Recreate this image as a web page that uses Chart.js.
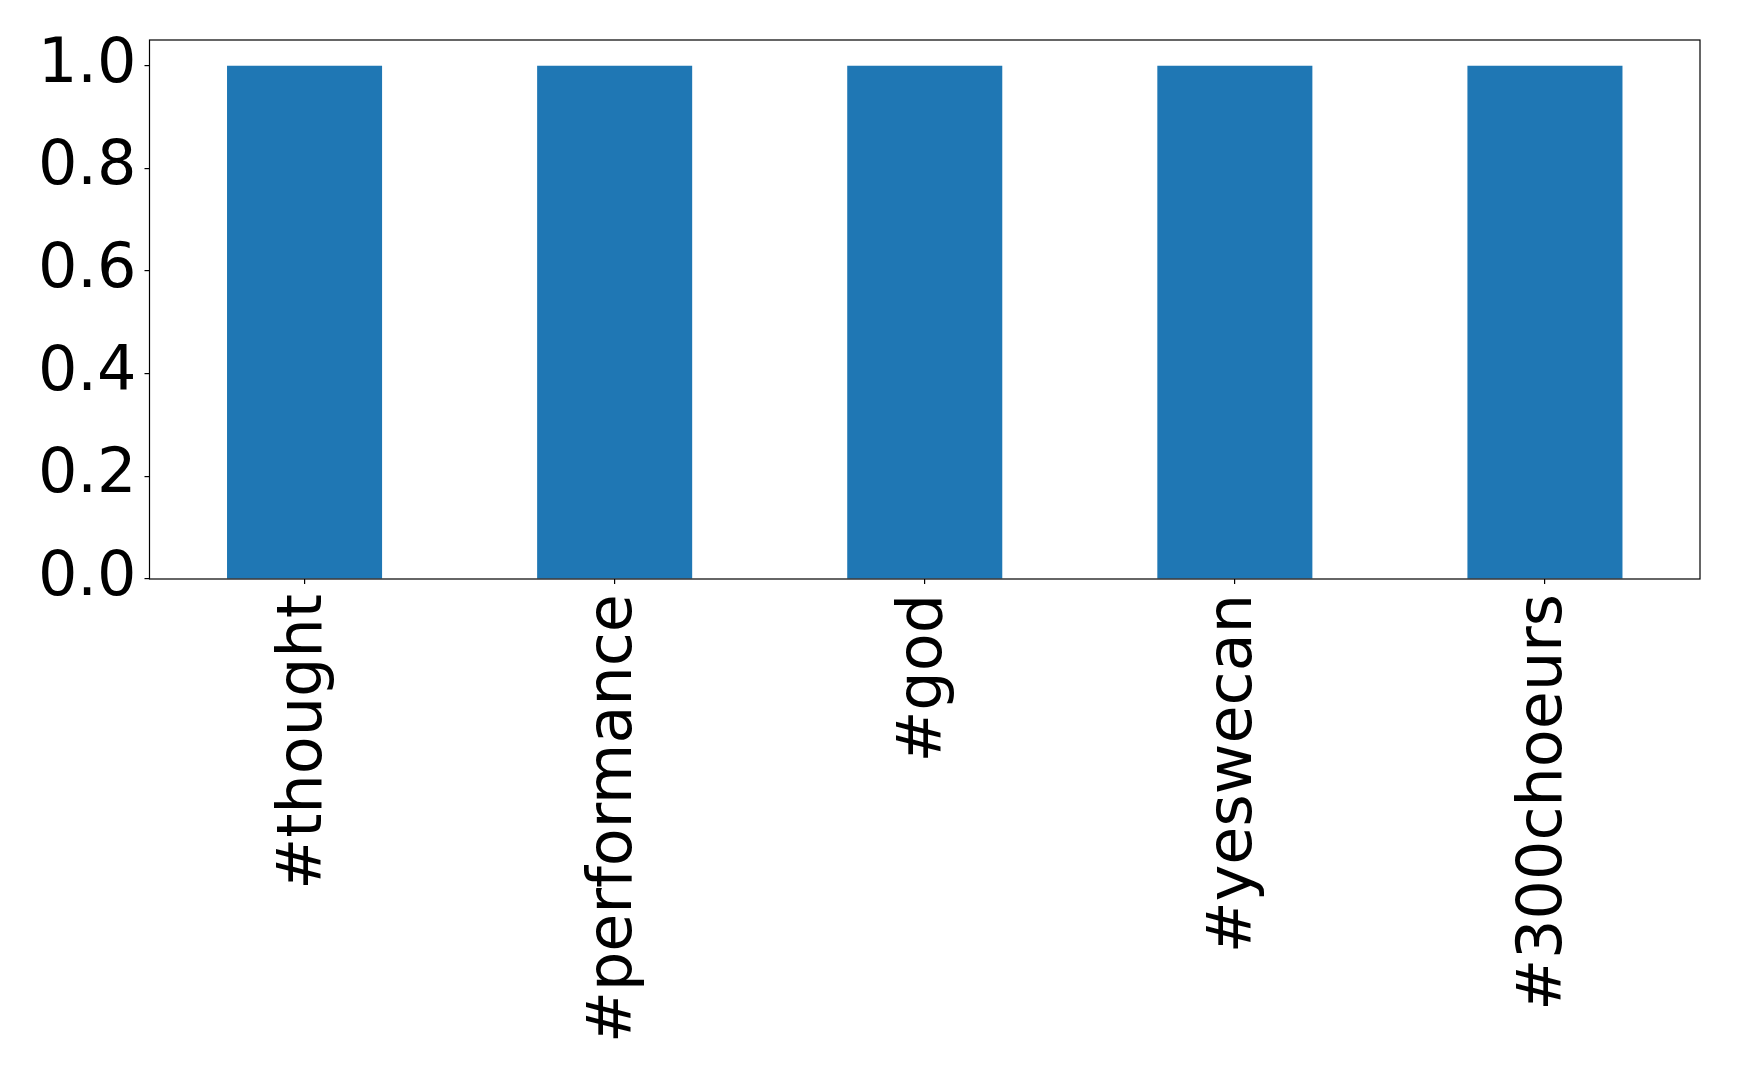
<!DOCTYPE html>
<html>
<head>
<meta charset="utf-8">
<script src="https://cdn.jsdelivr.net/npm/chart.js@4/dist/chart.umd.min.js"></script>
<style>
  body { margin: 0; background: #fff; }
  #wrap { width: 1739px; height: 1081px; }
</style>
</head>
<body>
<div id="wrap"><canvas id="hashtags" width="1739" height="1081"></canvas></div>
<script>
// hashtag counts
const HASHTAGS = ['#thought', '#performance', '#god', '#yeswecan', '#300choeurs'];
const COUNTS = [1, 1, 1, 1, 1];
const Y_TICKS = [0, 0.2, 0.4, 0.6, 0.8, 1.0];

//draw the box round the plot area
const frameBox = {
    id: 'frameBox',
    afterDraw(chart) {
        const a = chart.chartArea;
        const c = chart.ctx;
        c.save();
        c.strokeStyle = '#000';
        c.lineWidth = 1.2;
        c.strokeRect(a.left, a.top, a.right - a.left, a.bottom - a.top);
        c.restore();
    }
};

const ctx = document.getElementById('hashtags').getContext('2d');
new Chart(ctx, {
    type: 'bar',
    data: {
        labels: HASHTAGS,
        datasets: [{
            data: COUNTS,
            backgroundColor: '#1f77b4',
            borderWidth: 0,
            categoryPercentage: 1.0,
            barPercentage: 0.5
        }]
    },
    options: {
        responsive: false,
        animation: false,
        layout: { padding: { top: 40, right: 39, left: 0, bottom: 0 } },
        plugins: { legend: { display: false }, tooltip: { enabled: false } },
        scales: {
            x: {
                grid: { display: true, drawOnChartArea: false, offset: false, tickLength: 5, color: '#000', lineWidth: 1.2 },
                border: { display: false },
                ticks: {
                    autoSkip: false,
                    minRotation: 90,
                    maxRotation: 90,
                    padding: 10,
                    color: '#000',
                    font: { family: 'DejaVu Sans', size: 62 }
                },
                afterFit: scale => { scale.height = 502; scale.paddingLeft = 0; scale.paddingRight = 0; }
            },
            y: {
                min: 0,
                max: 1.05,
                grid: { display: true, drawOnChartArea: false, tickLength: 5, color: '#000', lineWidth: 1.2 },
                border: { display: false },
                afterBuildTicks: scale => { scale.ticks = Y_TICKS.map(v => ({ value: v })); },
                ticks: {
                    padding: 8,
                    color: '#000',
                    font: { family: 'DejaVu Sans', size: 62 },
                    callback: v => Number(v).toFixed(1)
                },
                afterFit: scale => { scale.width = 149.5; scale.paddingTop = 0; scale.paddingBottom = 0; }
            }
        }
    },
    plugins: [frameBox]
});
</script>
</body>
</html>
